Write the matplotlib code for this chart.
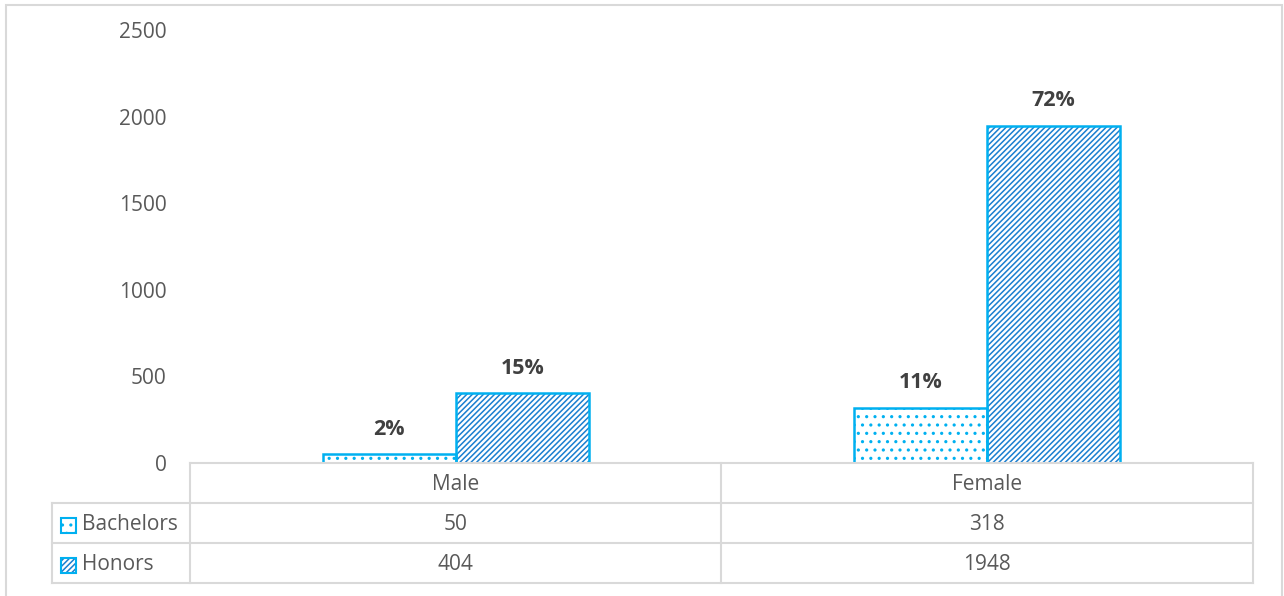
import matplotlib
matplotlib.use('Agg')
import matplotlib.pyplot as plt
from matplotlib.patches import Rectangle
from matplotlib.lines import Line2D
import numpy as np

plt.rcParams['font.family'] = ['Open Sans', 'DejaVu Sans']
plt.rcParams['hatch.linewidth'] = 1.1

categories = ['Male', 'Female']
series = ['Bachelors', 'Honors']
bachelors = [50, 318]
honors = [404, 1948]
bachelors_pct = ['2%', '11%']
honors_pct = ['15%', '72%']
yticks = [0, 500, 1000, 1500, 2000, 2500]

W, H = 1284, 596
fig = plt.figure(figsize=(W / 100, H / 100), dpi=100)

def fx(x):
    return x / W

def fy(y):
    return 1 - y / H

grid_col = '#d9d9d9'
text_col = '#595959'
edge = '#00b0f0'
dark = '#1a7fd0'

# outer chart border
fig.add_artist(Rectangle((fx(6), fy(598)), fx(1282) - fx(6), fy(5) - fy(598),
                         fill=False, edgecolor=grid_col, lw=1.5, transform=fig.transFigure))

ax = fig.add_axes([fx(190), fy(463), fx(1253) - fx(190), fy(30) - fy(463)])
x = np.arange(len(categories))
w = 0.25

# hatch drawn first, then the outline on top
b1 = ax.bar(x - w / 2, bachelors, w, color='white', edgecolor=edge, hatch='..', lw=0)
b2 = ax.bar(x + w / 2, honors, w, color='white', edgecolor=dark, hatch='//////', lw=0)
ax.bar(x - w / 2, bachelors, w, fill=False, edgecolor=edge, lw=1.8)
ax.bar(x + w / 2, honors, w, fill=False, edgecolor=edge, lw=1.8)

for bars, labels in [(b1, bachelors_pct), (b2, honors_pct)]:
    for b, lab in zip(bars, labels):
        ax.annotate(lab, (b.get_x() + b.get_width() / 2, b.get_height()),
                    xytext=(0, 18), textcoords='offset points', ha='center', va='center',
                    fontsize=15.5, fontweight='bold', color='#404040')

ax.set_xlim(-0.5, len(categories) - 0.5)
ax.set_ylim(0, 2500)
ax.set_yticks(yticks)
ax.set_yticklabels([str(t) for t in yticks], fontsize=15, color=text_col)
ax.tick_params(axis='y', length=0, pad=17)
ax.set_xticks([])
for s in ['top', 'right', 'left']:
    ax.spines[s].set_visible(False)
ax.spines['bottom'].set_color(grid_col)
ax.spines['bottom'].set_linewidth(1.5)

# data table below the axis
col_x = [190, 721, 1253]
row_y = [463, 503, 543, 583]
lk = dict(color=grid_col, lw=1.5, transform=fig.transFigure)
for cx in col_x:
    fig.add_artist(Line2D([fx(cx), fx(cx)], [fy(row_y[0]), fy(row_y[-1])], **lk))
fig.add_artist(Line2D([fx(52), fx(52)], [fy(row_y[1]), fy(row_y[-1])], **lk))
for ry in row_y[1:]:
    fig.add_artist(Line2D([fx(52), fx(1253)], [fy(ry), fy(ry)], **lk))

shift = 2  # text sits a little low in the cells
for i, cat in enumerate(categories):
    cx = (col_x[i] + col_x[i + 1]) / 2
    fig.text(fx(cx), fy((row_y[0] + row_y[1]) / 2 + shift), cat, ha='center', va='center',
             fontsize=15, color=text_col)
    for r, vals in enumerate([bachelors, honors]):
        fig.text(fx(cx), fy((row_y[r + 1] + row_y[r + 2]) / 2 + shift), str(vals[i]),
                 ha='center', va='center', fontsize=15, color=text_col)

hatches = ['..', '//////']
hcolors = [edge, dark]
for r, name in enumerate(series):
    cy = (row_y[r + 1] + row_y[r + 2]) / 2
    fig.add_artist(Rectangle((fx(61), fy(cy + 7.5 + shift)), fx(15), 15 / H, facecolor='white',
                             edgecolor=hcolors[r], hatch=hatches[r], lw=0, transform=fig.transFigure))
    fig.add_artist(Rectangle((fx(61), fy(cy + 7.5 + shift)), fx(15), 15 / H, fill=False,
                             edgecolor=edge, lw=1.5, transform=fig.transFigure))
    fig.text(fx(82), fy(cy + shift), name, ha='left', va='center', fontsize=15, color=text_col)

fig.savefig('out.png', dpi=100)
